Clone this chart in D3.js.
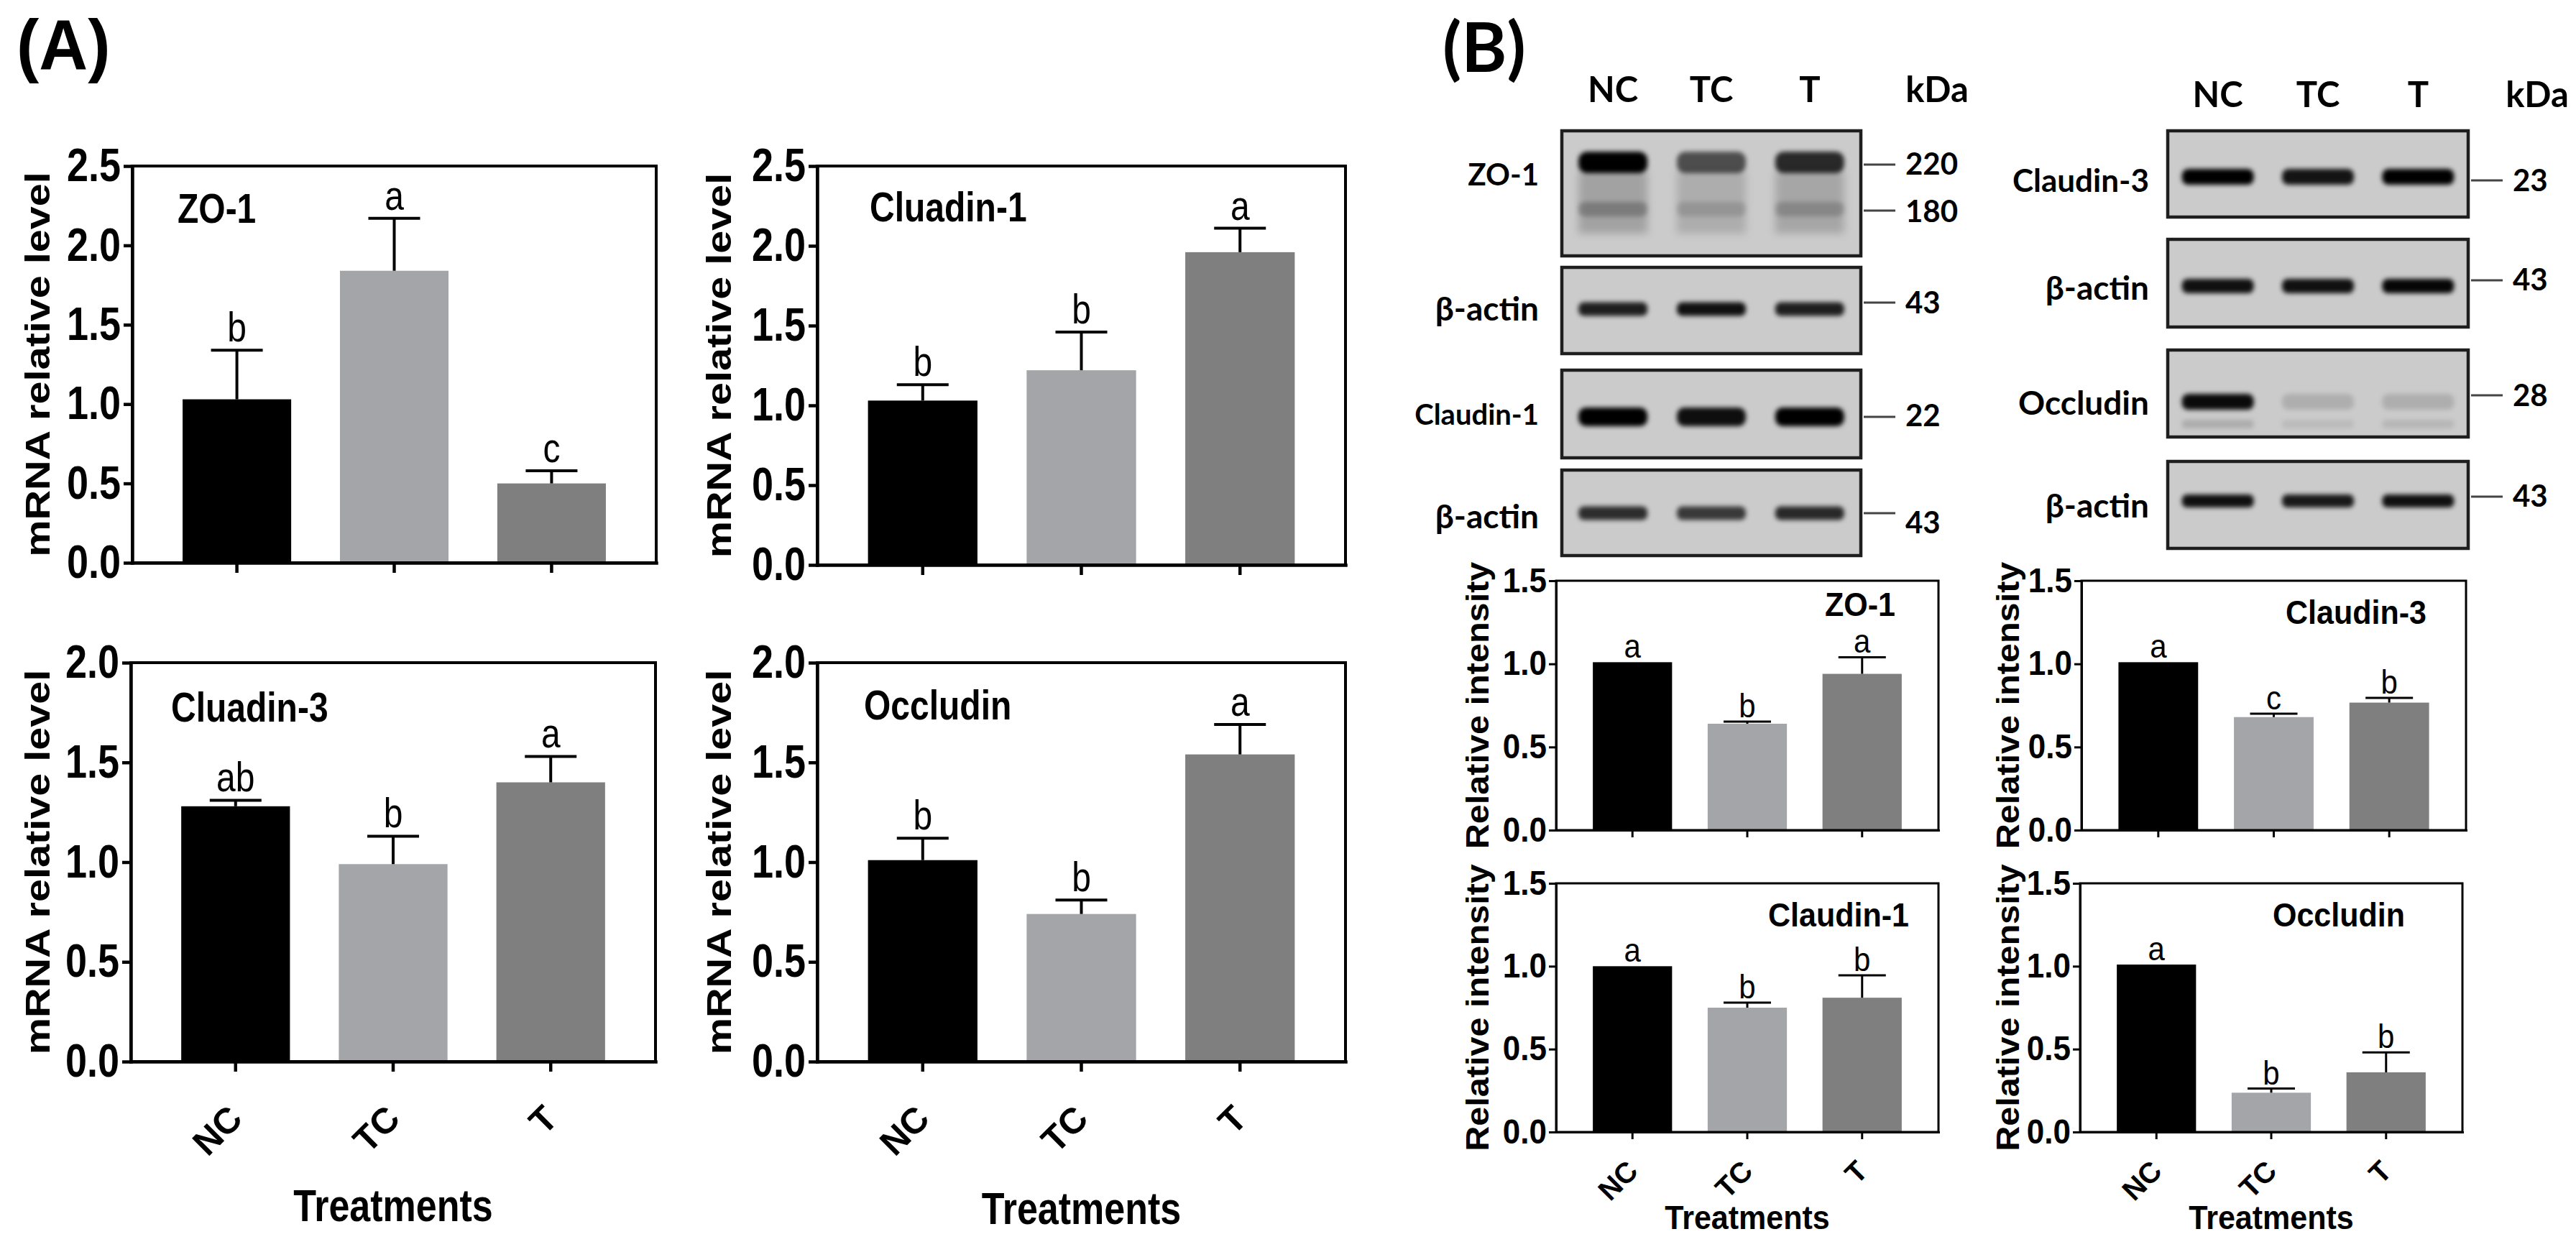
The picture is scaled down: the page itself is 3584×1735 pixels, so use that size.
<!DOCTYPE html>
<html><head><meta charset="utf-8">
<script src="https://cdn.jsdelivr.net/npm/d3@7"></script>
<style>body{margin:0;background:#fff}</style>
</head><body>
<svg id="c" width="3584" height="1735"></svg>
<script>
// ---------------- DATA ----------------
const treatments = ["NC", "TC", "T"];
const barColors = ["#000000", "#a4a5a9", "#7f7f7f"];

// Panel A: mRNA relative level
const mrnaZO1 = [1.03, 1.84, 0.50];
const mrnaZO1Err = [0.31, 0.33, 0.08];
const mrnaZO1Sig = ["b", "a", "c"];
const mrnaCld1 = [1.03, 1.22, 1.96];
const mrnaCld1Err = [0.10, 0.24, 0.15];
const mrnaCld1Sig = ["b", "b", "a"];
const mrnaCld3 = [1.28, 0.99, 1.40];
const mrnaCld3Err = [0.03, 0.14, 0.13];
const mrnaCld3Sig = ["ab", "b", "a"];
const mrnaOcc = [1.01, 0.74, 1.54];
const mrnaOccErr = [0.11, 0.07, 0.15];
const mrnaOccSig = ["b", "b", "a"];
const mrnaTicksTop = [0, 0.5, 1.0, 1.5, 2.0, 2.5];
const mrnaTicksBottom = [0, 0.5, 1.0, 1.5, 2.0];

// Panel B: relative protein intensity
const protZO1 = [1.01, 0.64, 0.94];
const protZO1Err = [0, 0.013, 0.10];
const protZO1Sig = ["a", "b", "a"];
const protCld1 = [1.00, 0.75, 0.81];
const protCld1Err = [0, 0.03, 0.135];
const protCld1Sig = ["a", "b", "b"];
const protCld3 = [1.01, 0.68, 0.767];
const protCld3Err = [0, 0.02, 0.028];
const protCld3Sig = ["a", "c", "b"];
const protOcc = [1.01, 0.237, 0.36];
const protOccErr = [0, 0.025, 0.12];
const protOccSig = ["a", "b", "b"];
const protTicks = [0, 0.5, 1.0, 1.5];

// Western blot band intensities (0-1) per lane NC, TC, T
const blotZO1Upper = [1.0, 0.62, 0.8];
const blotZO1Lower = [0.24, 0.14, 0.19];
const blotActinA = [0.85, 0.92, 0.85];
const blotCld1 = [1.0, 0.93, 1.0];
const blotActinB = [0.78, 0.72, 0.8];
const blotCld3 = [1.0, 0.9, 1.0];
const blotActinC = [0.92, 0.92, 0.97];
const blotOcc = [0.95, 0.14, 0.14];
const blotActinD = [0.92, 0.88, 0.92];
const laneLabels = ["NC", "TC", "T"];

// ---------------- RENDER ----------------
const ARIAL = "'Liberation Sans', Arial, sans-serif";
const CALIBRI = "Lato, 'Open Sans', sans-serif";
const svg = d3.select("#c");

const defs = svg.append("defs");
defs.append("filter").attr("id", "blur").attr("x", "-30%").attr("y", "-80%").attr("width", "160%").attr("height", "260%")
  .append("feGaussianBlur").attr("stdDeviation", 3.2);
defs.append("filter").attr("id", "blur2").attr("x", "-30%").attr("y", "-30%").attr("width", "160%").attr("height", "160%")
  .append("feGaussianBlur").attr("stdDeviation", 6);

function txt(g, x, y, s, o) {
  const rot = o.rotate || 0;
  const sy = o.sy || 1;
  let tr = `translate(${x},${y})`;
  if (rot === -90) tr += ` rotate(-90) scale(${sy},1)`;
  else if (rot) tr += ` rotate(${rot})`;
  else tr += ` scale(1,${sy})`;
  return g.append("text").attr("transform", tr)
    .attr("font-family", o.family || ARIAL)
    .attr("font-size", o.size)
    .attr("font-weight", o.weight || "bold")
    .attr("text-anchor", o.anchor || "middle")
    .attr("dy", o.dy || 0)
    .attr("fill", o.fill || "#000")
    .text(s);
}

function barChart(c) {
  const g = svg.append("g");
  const x = d3.scaleBand().domain(treatments).range([c.x0, c.x1]).paddingInner(0.31).paddingOuter(0.32);
  const y = d3.scaleLinear().domain([0, c.max]).range([c.y1, c.y0]);
  const bw = x.bandwidth();

  g.selectAll("rect.bar").data(c.values).join("rect").attr("class", "bar")
    .attr("x", (d, i) => x(treatments[i])).attr("y", d => y(d))
    .attr("width", bw).attr("height", d => c.y1 - y(d))
    .attr("fill", (d, i) => barColors[i]);

  // error bars (upper only)
  c.values.forEach((v, i) => {
    const e = c.err[i];
    const cx = x(treatments[i]) + bw / 2;
    if (e > 0) {
      g.append("line").attr("x1", cx).attr("x2", cx).attr("y1", y(v)).attr("y2", y(v + e))
        .attr("stroke", "#000").attr("stroke-width", c.esw);
      g.append("line").attr("x1", cx - c.cap / 2).attr("x2", cx + c.cap / 2).attr("y1", y(v + e)).attr("y2", y(v + e))
        .attr("stroke", "#000").attr("stroke-width", c.esw);
    }
    txt(g, cx, y(v + e) - c.sigGap, c.sig[i], { size: c.sigFont, weight: "normal", sy: c.sy });
  });

  // frame
  g.append("rect").attr("x", c.x0).attr("y", c.y0).attr("width", c.x1 - c.x0).attr("height", c.y1 - c.y0)
    .attr("fill", "none").attr("stroke", "#000").attr("stroke-width", c.fsw);

  // y axis
  const ya = g.append("g").attr("transform", `translate(${c.x0},0)`)
    .call(d3.axisLeft(y).tickValues(c.ticks).tickFormat(d3.format(".1f")).tickSize(c.tick).tickSizeOuter(0).tickPadding(c.pad));
  ya.select(".domain").attr("stroke-width", c.sw).attr("stroke-linecap", "square");
  ya.selectAll(".tick line").attr("stroke-width", c.sw);
  ya.selectAll(".tick text").attr("font-size", c.tickFont).attr("font-weight", "bold")
    .attr("font-family", ARIAL).attr("fill", "#000").attr("transform", `scale(1,${c.sy})`);

  // x axis
  const xa = g.append("g").attr("transform", `translate(0,${c.y1})`)
    .call(d3.axisBottom(x).tickSize(c.xtick).tickSizeOuter(0));
  xa.select(".domain").attr("stroke-width", c.sw).attr("stroke-linecap", "square");
  xa.selectAll(".tick line").attr("stroke-width", c.sw);
  xa.selectAll(".tick text").remove();

  if (c.xlabels) {
    treatments.forEach(t => {
      const cx = x(t) + bw / 2;
      txt(g, cx + c.xlDx, c.y1 + c.xlDy, t, { size: c.xlFont, rotate: -45, anchor: "end", dy: "0.35em" });
    });
    txt(g, x("TC") + bw / 2, c.xtY, "Treatments", { size: c.xtFont, sy: c.sy });
  }

  // y title
  txt(g, c.tx, (c.y0 + c.y1) / 2, c.title, { size: c.titleFont, rotate: -90, dy: "0.35em", sy: c.sy });
  // gene label
  txt(g, c.lx, c.ly, c.label, { size: c.labelFont, anchor: c.lanchor, sy: c.sy });
}

// Panel A styles
const A = { max: 2.5, sw: 4.5, fsw: 4, esw: 4, cap: 72, tick: 12, xtick: 14, pad: 4, tickFont: 54, sy: 1.2,
  sigFont: 48, sigGap: 12, title: "mRNA relative level", titleFont: 48, labelFont: 48, lanchor: "start",
  xlFont: 50, xlDx: 0, xlDy: 70, xtFont: 52 };
barChart({ ...A, x0: 184, x1: 913, y0: 231, y1: 783, values: mrnaZO1, err: mrnaZO1Err, sig: mrnaZO1Sig,
  ticks: mrnaTicksTop, label: "ZO-1", lx: 247, ly: 310, tx: 52 });
barChart({ ...A, x0: 1137, x1: 1872, y0: 231, y1: 786, values: mrnaCld1, err: mrnaCld1Err, sig: mrnaCld1Sig,
  ticks: mrnaTicksTop, label: "Cluadin-1", lx: 1210, ly: 308, tx: 1000 });
barChart({ ...A, max: 2.0, x0: 182, x1: 912, y0: 922, y1: 1477, values: mrnaCld3, err: mrnaCld3Err, sig: mrnaCld3Sig,
  ticks: mrnaTicksBottom, label: "Cluadin-3", lx: 238, ly: 1004, tx: 52, xlabels: true, xtY: 1699 });
barChart({ ...A, max: 2.0, x0: 1137, x1: 1872, y0: 922, y1: 1477, values: mrnaOcc, err: mrnaOccErr, sig: mrnaOccSig,
  ticks: mrnaTicksBottom, label: "Occludin", lx: 1202, ly: 1001, tx: 1000, xlabels: true, xtY: 1703 });

// Panel B styles
const B = { max: 1.5, sw: 3, fsw: 3, esw: 3, cap: 66, tick: 10, xtick: 10, pad: 3, tickFont: 44, sy: 1.08,
  sigFont: 42, sigGap: 6, title: "Relative intensity", titleFont: 45, labelFont: 43, lanchor: "middle",
  ticks: protTicks, xlFont: 40, xlDx: 0, xlDy: 47, xtFont: 43 };
barChart({ ...B, x0: 2165, x1: 2697, y0: 808, y1: 1155, values: protZO1, err: protZO1Err, sig: protZO1Sig,
  label: "ZO-1", lx: 2588, ly: 857, tx: 2055 });
barChart({ ...B, x0: 2896, x1: 3431, y0: 808, y1: 1155, values: protCld3, err: protCld3Err, sig: protCld3Sig,
  label: "Claudin-3", lx: 3278, ly: 868, tx: 2793 });
barChart({ ...B, x0: 2165, x1: 2697, y0: 1229, y1: 1575, values: protCld1, err: protCld1Err, sig: protCld1Sig,
  label: "Claudin-1", lx: 2558, ly: 1289, tx: 2055, xlabels: true, xtY: 1710 });
barChart({ ...B, x0: 2894, x1: 3426, y0: 1229, y1: 1575, values: protOcc, err: protOccErr, sig: protOccSig,
  label: "Occludin", lx: 3254, ly: 1289, tx: 2793, xlabels: true, xtY: 1710 });

// Panel letters
txt(svg, 23, 96, "(A)", { size: 94, anchor: "start", sy: 1.05 });
txt(svg, 2007, 100, "(B)", { size: 96, anchor: "start", family: CALIBRI, weight: "bold" });

// ---------------- Western blots ----------------
function blotColumn(col) {
  const g = svg.append("g");
  const lane = d3.scalePoint().domain(laneLabels).range([col.x0, col.x1]).padding(col.lanePad);
  laneLabels.forEach(l => txt(g, lane(l), col.headY, l, { size: 49, family: CALIBRI, weight: "bold" }));
  txt(g, col.kdaX, col.headY, "kDa", { size: 49, family: CALIBRI, weight: "bold" });

  col.rows.forEach(r => {
    g.append("rect").attr("x", col.x0).attr("y", r.y0).attr("width", col.x1 - col.x0).attr("height", r.y1 - r.y0)
      .attr("fill", "#cbcbcb").attr("stroke", "#1e1e1e").attr("stroke-width", 4.5);
    r.bands.forEach(b => {
      if (b.smear) {
        g.selectAll(null).data(b.vals).join("rect")
          .attr("x", (d, i) => lane(laneLabels[i]) - col.bw / 2).attr("y", b.y0)
          .attr("width", col.bw).attr("height", b.y1 - b.y0)
          .attr("fill", "#000").attr("fill-opacity", d => d).attr("filter", "url(#blur2)");
      } else {
        g.selectAll(null).data(b.vals).join("rect")
          .attr("x", (d, i) => lane(laneLabels[i]) - col.bw / 2).attr("y", b.cy - b.h / 2)
          .attr("width", col.bw).attr("height", b.h).attr("rx", b.h / 2.5)
          .attr("fill", "#050505").attr("fill-opacity", d => d).attr("filter", "url(#blur)");
      }
    });
    txt(g, col.labelX, r.labelY, r.label, { size: r.labelSize, family: CALIBRI, anchor: "end", dy: "0.35em" });
    r.markers.forEach(m => {
      g.append("line").attr("x1", col.x1 + 4).attr("x2", col.x1 + 48).attr("y1", m.y).attr("y2", m.y)
        .attr("stroke", "#444").attr("stroke-width", 3);
      txt(g, col.x1 + 62, m.ty, m.text, { size: 42, family: CALIBRI, anchor: "start", dy: "0.35em" });
    });
  });
}

blotColumn({
  x0: 2173, x1: 2589, lanePad: 0.52, bw: 96, headY: 142, kdaX: 2695, labelX: 2141,
  rows: [
    { y0: 182, y1: 356, label: "ZO-1", labelY: 243, labelSize: 42,
      bands: [ { smear: true, y0: 238, y1: 325, vals: [0.2, 0.15, 0.18] },
               { cy: 226, h: 30, vals: blotZO1Upper }, { cy: 291, h: 20, vals: blotZO1Lower } ],
      markers: [ { y: 229, ty: 228, text: "220" }, { y: 293, ty: 294, text: "180" } ] },
    { y0: 372, y1: 492, label: "β-actin", labelY: 430, labelSize: 46,
      bands: [ { cy: 430, h: 19, vals: blotActinA } ],
      markers: [ { y: 421, ty: 421, text: "43" } ] },
    { y0: 515, y1: 637, label: "Claudin-1", labelY: 577, labelSize: 40,
      bands: [ { cy: 580, h: 26, vals: blotCld1 } ],
      markers: [ { y: 580, ty: 578, text: "22" } ] },
    { y0: 654, y1: 773, label: "β-actin", labelY: 719, labelSize: 46,
      bands: [ { cy: 714, h: 19, vals: blotActinB } ],
      markers: [ { y: 714, ty: 727, text: "43" } ] }
  ]
});

blotColumn({
  x0: 3016, x1: 3434, lanePad: 0.5, bw: 100, headY: 149, kdaX: 3530, labelX: 2990,
  rows: [
    { y0: 182, y1: 302, label: "Claudin-3", labelY: 252, labelSize: 44,
      bands: [ { cy: 246, h: 22, vals: blotCld3 } ],
      markers: [ { y: 251, ty: 251, text: "23" } ] },
    { y0: 333, y1: 455, label: "β-actin", labelY: 401, labelSize: 46,
      bands: [ { cy: 398, h: 20, vals: blotActinC } ],
      markers: [ { y: 390, ty: 389, text: "43" } ] },
    { y0: 487, y1: 608, label: "Occludin", labelY: 561, labelSize: 46,
      bands: [ { cy: 559, h: 22, vals: blotOcc }, { cy: 590, h: 12, vals: [0.15, 0.08, 0.1] } ],
      markers: [ { y: 550, ty: 550, text: "28" } ] },
    { y0: 642, y1: 763, label: "β-actin", labelY: 704, labelSize: 46,
      bands: [ { cy: 697, h: 18, vals: blotActinD } ],
      markers: [ { y: 691, ty: 690, text: "43" } ] }
  ]
});
</script>
</body></html>
